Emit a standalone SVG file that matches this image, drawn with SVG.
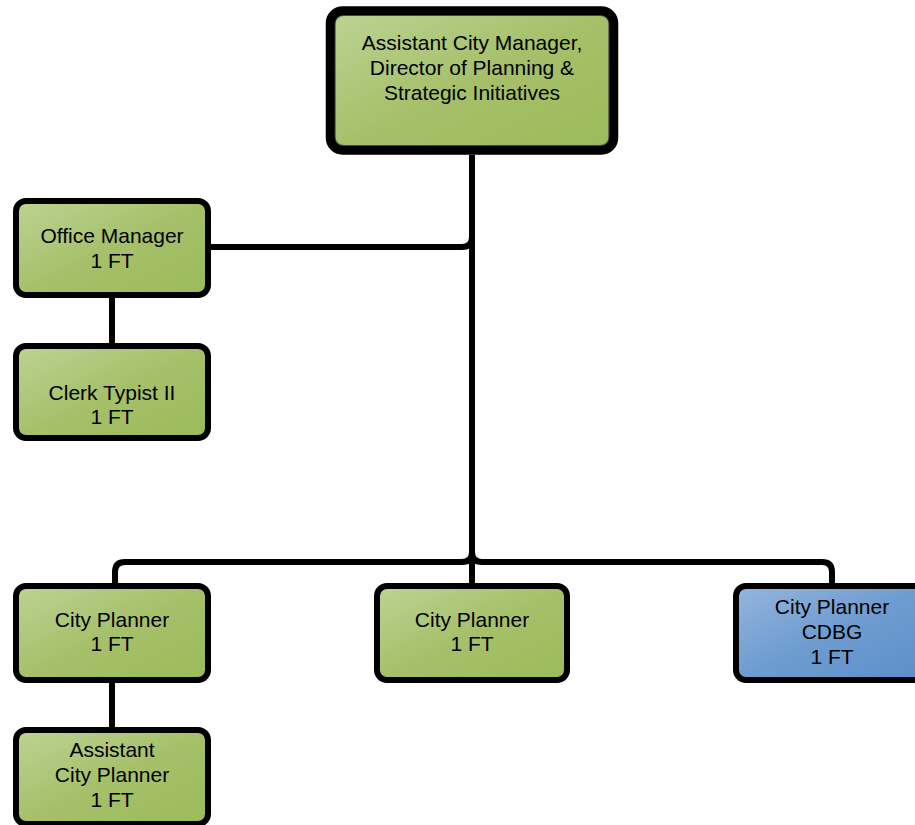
<svg xmlns="http://www.w3.org/2000/svg" width="915" height="825" viewBox="0 0 915 825">
<defs>
<linearGradient id="g" x1="0" y1="0" x2="1" y2="1">
<stop offset="0" stop-color="#bdd394"/>
<stop offset="0.5" stop-color="#a6c06a"/>
<stop offset="1" stop-color="#9bbb59"/>
</linearGradient>
<linearGradient id="b" x1="0" y1="0" x2="1" y2="1">
<stop offset="0" stop-color="#95b6dc"/>
<stop offset="0.5" stop-color="#6e9cd0"/>
<stop offset="1" stop-color="#5b8fc9"/>
</linearGradient>
<style>
.box{stroke:#000;stroke-width:6}
.gr{fill:url(#g)}
.bl{fill:url(#b)}
.t{font-family:"Liberation Sans",Arial,sans-serif;font-size:21px;fill:#000;text-anchor:middle}
.c{fill:none;stroke:#000;stroke-width:6}
</style>
</defs>
<g id="connectors">
<path class="c" d="M472,155 V584"/>
<path class="c" d="M211,247 H462 Q472,247 472,237"/>
<path class="c" d="M112,298 V343"/>
<path class="c" d="M472,552 Q472,562 462,562 H125 Q115,562 115,572 V584"/>
<path class="c" d="M472,552 Q472,562 482,562 H822 Q832,562 832,572 V584"/>
<path class="c" d="M112,683 V727"/>
</g>
<g id="n-top">
<rect class="gr" x="330.5" y="11" width="283" height="139" rx="12" stroke="#000" stroke-width="9.5"/>
<rect x="335" y="15.5" width="274" height="130" rx="9" fill="none" stroke="#4a4a4a" stroke-width="0.8"/>
<text class="t" x="472" y="50">Assistant City Manager,</text>
<text class="t" x="472" y="75">Director of Planning &amp;</text>
<text class="t" x="472" y="100">Strategic Initiatives</text>
</g>
<g id="n-office">
<rect class="box gr" x="16" y="201" width="192" height="94" rx="10"/>
<text class="t" x="112" y="243">Office Manager</text>
<text class="t" x="112" y="268">1 FT</text>
</g>
<g id="n-clerk">
<rect class="box gr" x="16" y="346" width="192" height="92" rx="10"/>
<text class="t" x="112" y="400">Clerk Typist II</text>
<text class="t" x="112" y="424">1 FT</text>
</g>
<g id="n-cp1">
<rect class="box gr" x="16" y="586" width="192" height="94" rx="10"/>
<text class="t" x="112" y="627">City Planner</text>
<text class="t" x="112" y="651">1 FT</text>
</g>
<g id="n-cp2">
<rect class="box gr" x="377" y="586" width="190" height="94" rx="10"/>
<text class="t" x="472" y="627">City Planner</text>
<text class="t" x="472" y="651">1 FT</text>
</g>
<g id="n-cp3">
<rect class="box bl" x="736" y="586" width="192" height="94" rx="10"/>
<text class="t" x="832" y="614">City Planner</text>
<text class="t" x="832" y="639">CDBG</text>
<text class="t" x="832" y="664">1 FT</text>
</g>
<g id="n-acp">
<rect class="box gr" x="16" y="730" width="192" height="94" rx="10"/>
<text class="t" x="112" y="757">Assistant</text>
<text class="t" x="112" y="782">City Planner</text>
<text class="t" x="112" y="807">1 FT</text>
</g>
</svg>
